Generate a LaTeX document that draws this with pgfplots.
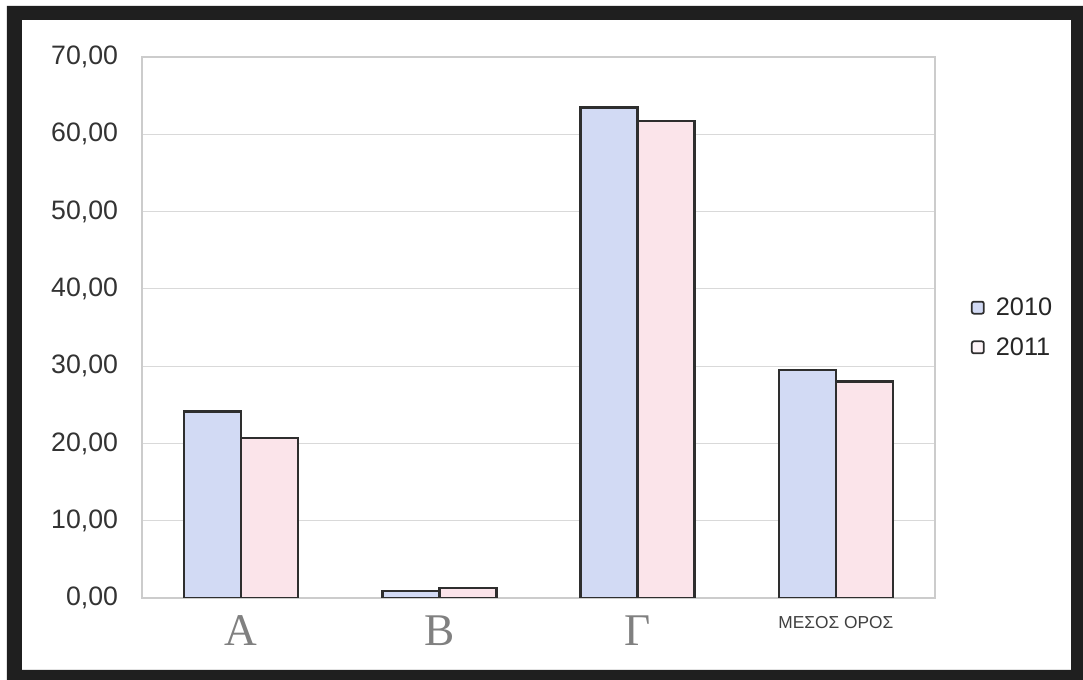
\documentclass[border=0pt]{standalone}
\usepackage{pgfplots}
\pgfplotsset{compat=1.18}
\usepackage{fontspec}
\setmainfont{Liberation Sans}
\newfontfamily\serifgr{Liberation Serif}
\definecolor{b10}{HTML}{D2DAF4}
\definecolor{p11}{HTML}{FBE4EA}
\definecolor{edge}{HTML}{2E2E2E}
\begin{document}
\begin{tikzpicture}
\path[use as bounding box] (-106.5pt,-61.5pt) rectangle (705.75pt,448.5pt);
\fill[white] (-106.5pt,-61.5pt) rectangle (705.75pt,448.5pt);
\fill[black!88, even odd rule] (-101.25pt,-61.5pt) rectangle (705.75pt,444pt) (-90pt,-54pt) rectangle (696.75pt,433.5pt);
\begin{axis}[
  at={(0pt,0pt)}, anchor=south west,
  scale only axis, width=594.75pt, height=405.75pt,
  xmin=-0.5, xmax=3.5, ymin=0, ymax=70,
  ybar=0pt, bar width=42.75pt,
  xtick={0,1,2,3},
  xticklabels={{\serifgr\fontsize{34}{36}\selectfont\color{gray}A},{\serifgr\fontsize{34}{36}\selectfont\color{gray}B},{\serifgr\fontsize{34}{36}\selectfont\color{gray}Γ},{\fontsize{13}{14}\selectfont\color{black!75}ΜΕΣΟΣ ΟΡΟΣ}},
  xticklabel style={anchor=north, inner sep=0pt, yshift=-9pt},
  ytick={0,10,...,70},
  ymajorgrids, grid style={draw=gray!30, line width=0.8pt},
  axis line style={draw=gray!40, line width=0.8pt},
  tick style={draw=none},
  yticklabel style={font=\fontsize{20}{22}\selectfont, text=black!80, xshift=-14.5pt,
    /pgf/number format/fixed, /pgf/number format/fixed zerofill, /pgf/number format/precision=2,
    /pgf/number format/use comma, /pgf/number format/assume math mode=true},
  legend style={at={(1.04,0.5)}, anchor=west, draw=none, fill=none,
    font=\fontsize{19}{21}\selectfont, row sep=11pt, text=black!85},
  legend cell align=left,
]
\addplot[fill=b10, draw=edge, line width=2pt,
  legend image code/.code={\draw[fill=b10, draw=edge, line width=1.3pt, rounded corners=1.5pt] (0pt,-4.5pt) rectangle (9pt,4.5pt); \path (15pt,0pt);}]
  coordinates {(0,24.1) (1,0.9) (2,63.5) (3,29.5)};
\addplot[fill=p11, draw=edge, line width=2pt,
  legend image code/.code={\draw[fill=p11!40, draw=edge, line width=1.3pt, rounded corners=1.5pt] (0pt,-4.5pt) rectangle (9pt,4.5pt); \path (15pt,0pt);}]
  coordinates {(0,20.7) (1,1.3) (2,61.7) (3,28.0)};
\legend{2010,2011}
\end{axis}
\end{tikzpicture}
\end{document}
